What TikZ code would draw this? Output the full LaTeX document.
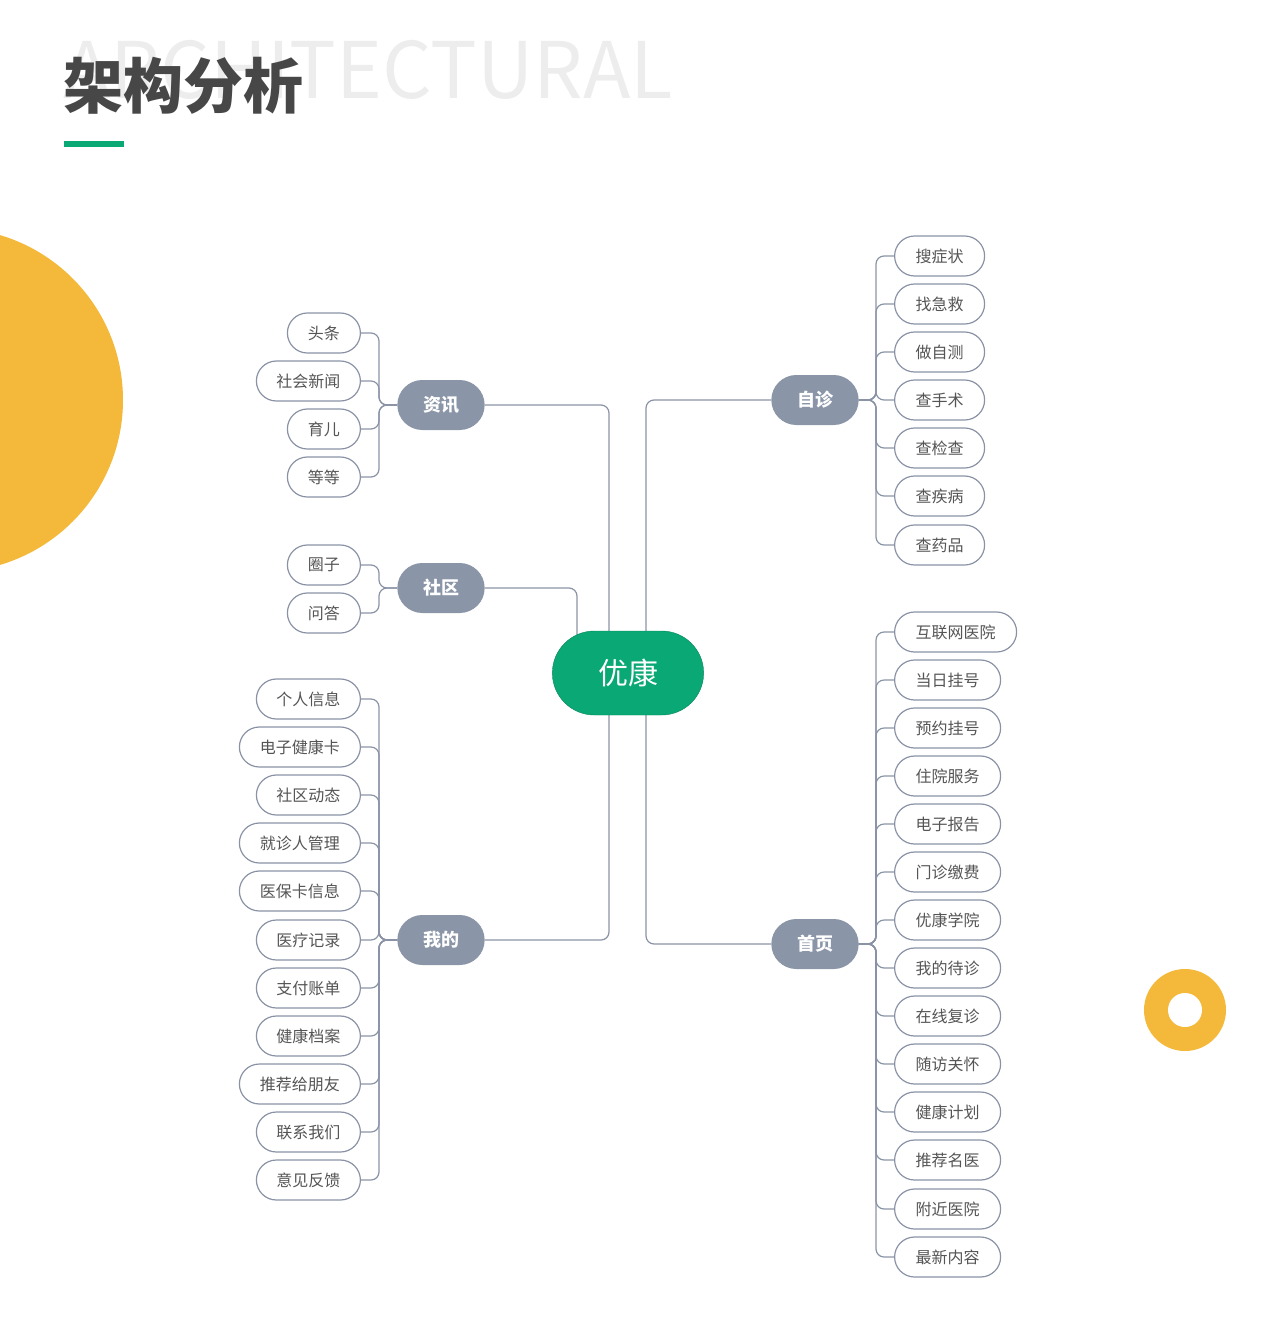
\documentclass[tikz,border=0pt]{standalone}
\usepackage{fontspec}
\setmainfont{Noto Sans CJK SC}
\usetikzlibrary{shapes.misc}
\pgfdeclarelayer{bg}\pgfsetlayers{bg,main}
\definecolor{yel}{HTML}{F4B93A}
\definecolor{grn}{HTML}{0AA874}
\definecolor{mid}{HTML}{8A95A8}
\definecolor{ln}{HTML}{8A93A6}
\definecolor{tx}{HTML}{555555}
\tikzset{
 leaf/.style={rounded rectangle,draw=ln,line width=1.2pt,fill=white,minimum height=40pt,inner xsep=0pt,text=tx,font=\fontsize{16}{16}\selectfont},
 midn/.style={rounded rectangle,fill=mid,minimum height=50pt,minimum width=94pt,text=white,font=\fontsize{18}{18}\selectfont\bfseries},
 con/.style={draw=ln,line width=1.2pt,rounded corners=8pt},
}
\begin{document}
\begin{tikzpicture}[x=1pt,y=-1pt]
\useasboundingbox (0,0) rectangle (1280,1339);
\clip (0,0) rectangle (1280,1339);
\fill[yel] (-49,400) circle (172);
\fill[yel] (1185,1010) circle (41);
\fill[white] (1185,1010) circle (17);
\node[anchor=west,text=black!7,font=\fontsize{78}{78}\selectfont] (bgt) at (60,70) {ARCHITECTURAL};
\node[anchor=west,text=black!72,font=\fontsize{60}{60}\selectfont\bfseries] (title) at (60,86) {架构分析};
\fill[grn] (64,141) rectangle (124,147);
\node[rounded rectangle,draw=grn!80!black,fill=grn,minimum width=158pt,minimum height=84pt,text=white,font=\fontsize{30}{30}\selectfont] (c) at (628,673) {优康};
\node[midn] (zx) at (441,405) {资讯};
\node[midn] (sq) at (441,588) {社区};
\node[midn] (wd) at (441,940) {我的};
\node[midn] (zz) at (815,400) {自诊};
\node[midn] (sy) at (815,944) {首页};
\begin{pgfonlayer}{bg}
\draw[con] ([xshift=-19pt]c.north) |- (zx.east);
\draw[con] ([xshift=-51pt,yshift=-20pt]c.north) |- (sq.east);
\draw[con] ([xshift=-19pt]c.south) |- (wd.east);
\draw[con] ([xshift=18pt]c.north) |- (zz.west);
\draw[con] ([xshift=18pt]c.south) |- (sy.west);
\end{pgfonlayer}
\foreach \t/\w/\y [count=\i] in {头条/73/333,社会新闻/104/381,育儿/73/429,等等/73/477}{
 \node[leaf,anchor=east,minimum width=\w pt] (a\i) at (361,\y) {\t};
 \begin{pgfonlayer}{bg}\draw[con] (a\i.east) -| (379,405) -- (zx.west);\end{pgfonlayer}}
\foreach \t/\w/\y [count=\i] in {圈子/73/565,问答/73/613}{
 \node[leaf,anchor=east,minimum width=\w pt] (b\i) at (361,\y) {\t};
 \begin{pgfonlayer}{bg}\draw[con] (b\i.east) -| (379,588) -- (sq.west);\end{pgfonlayer}}
\foreach \t/\w/\y [count=\i] in {个人信息/104/699,电子健康卡/121/747,社区动态/104/795,就诊人管理/121/843,医保卡信息/121/891,医疗记录/104/940,支付账单/104/988,健康档案/104/1036,推荐给朋友/121/1084,联系我们/104/1132,意见反馈/104/1180}{
 \node[leaf,anchor=east,minimum width=\w pt] (m\i) at (361,\y) {\t};
 \begin{pgfonlayer}{bg}\draw[con] (m\i.east) -| (379,940) -- (wd.west);\end{pgfonlayer}}
\foreach \t/\w/\y [count=\i] in {搜症状/90/256,找急救/90/304,做自测/90/352,查手术/90/400,查检查/90/448,查疾病/90/496,查药品/90/545}{
 \node[leaf,anchor=west,minimum width=\w pt] (r\i) at (894,\y) {\t};
 \begin{pgfonlayer}{bg}\draw[con] (r\i.west) -| (876,400) -- (zz.east);\end{pgfonlayer}}
\foreach \t/\w/\y [count=\i] in {互联网医院/122/632,当日挂号/106/680,预约挂号/106/728,住院服务/106/776,电子报告/106/824,门诊缴费/106/872,优康学院/106/920,我的待诊/106/968,在线复诊/106/1016,随访关怀/106/1064,健康计划/106/1112,推荐名医/106/1160,附近医院/106/1209,最新内容/106/1257}{
 \node[leaf,anchor=west,minimum width=\w pt] (s\i) at (894,\y) {\t};
 \begin{pgfonlayer}{bg}\draw[con] (s\i.west) -| (876,944) -- (sy.east);\end{pgfonlayer}}
\end{tikzpicture}
\end{document}
